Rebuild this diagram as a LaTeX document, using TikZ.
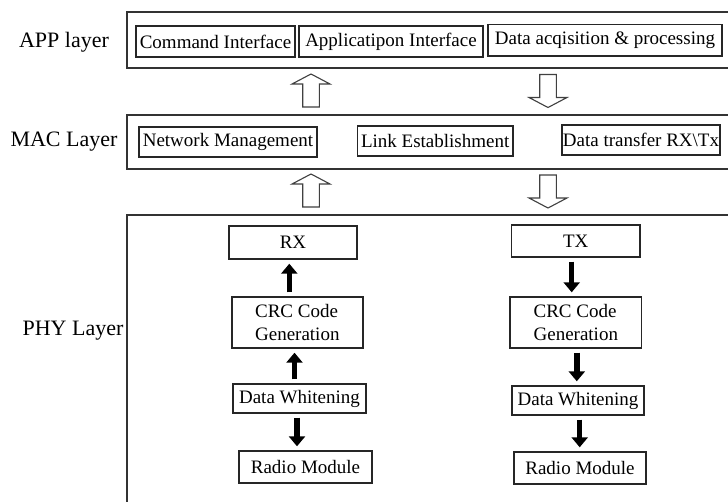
\documentclass[tikz,border=0pt]{standalone}
\usepackage{fontspec}
\setmainfont{Liberation Serif}
\usetikzlibrary{arrows.meta}

\begin{document}
\begin{tikzpicture}[x=1pt,y=-1pt,
  layerbox/.style={draw=black!80,line width=1.3pt,minimum width=608pt,inner sep=0pt},
  ibox/.style={draw=black!85,line width=1.4pt,inner sep=0pt,
    font=\fontsize{19}{23}\selectfont},
  lbl/.style={inner sep=0pt,font=\fontsize{22}{26}\selectfont},
  hollowline/.style={draw=black!75,line width=1.1pt,line join=miter,fill=white},
  hollowup/.pic={\draw[hollowline] (-8.3,16.5) -- (-8.3,-6.5) -- (-19,-6.5) -- (0,-16.5)
     -- (19,-6.5) -- (8.3,-6.5) -- (8.3,16.5) -- cycle;},
  hollowdown/.pic={\draw[hollowline] (-8.3,-16.5) -- (-8.3,6.5) -- (-19,6.5) -- (0,16.5)
     -- (19,6.5) -- (8.3,6.5) -- (8.3,-16.5) -- cycle;},
  flow/.style={line width=5.5pt,-{Triangle[length=10pt,width=16pt]},
    shorten <=4pt,shorten >=4pt}
]
\fill[white] (0,0) rectangle (728,501);
\useasboundingbox (0,0) rectangle (728,501);

% layer frames (they run past the right and bottom edges)
\node[layerbox,minimum height=56pt] (app) at (431,40) {};
\node[layerbox,minimum height=54pt] (mac) at (431,142) {};
\node[layerbox,minimum height=295pt] (phy) at (431,362.5) {};

% layer names
\node[lbl] (applbl) at (64,42) {APP layer};
\node[lbl] (maclbl) at (64,142) {MAC Layer};
\node[lbl] (phylbl) at (73,331) {PHY Layer};

% APP layer blocks
\node[ibox,minimum width=159pt,minimum height=31pt] (cmd) at (215.5,41.5) {Command Interface};
\node[ibox,minimum width=184pt,minimum height=31pt] (api) at (391,41.5) {Applicatipon Interface};
\node[ibox,minimum width=234pt,minimum height=31.5pt] (daq) at (605,40.3) {Data acqisition \& processing};

% MAC layer blocks
\node[ibox,minimum width=178pt,minimum height=30pt] (net) at (228,142) {Network Management};
\node[ibox,minimum width=155.5pt,minimum height=30pt] (link) at (435.2,141) {Link Establishment};
\node[ibox,minimum width=158pt,minimum height=30pt] (dtr) at (641,140) {Data transfer RX\textbackslash Tx};

% hollow arrows between the layers
\pic (up1) at (311,90.5) {hollowup};
\pic (down1) at (548,91) {hollowdown};
\pic (up2) at (311,190.5) {hollowup};
\pic (down2) at (548,191.5) {hollowdown};

% PHY receive chain
\node[ibox,minimum width=128pt,minimum height=33pt] (rx) at (293,242.5) {RX};
\node[ibox,minimum width=131pt,minimum height=51pt,align=left] (crcl) at (297.3,322.5) {CRC Code\\Generation};
\node[ibox,minimum width=133pt,minimum height=29pt] (dwl) at (299.5,398.5) {Data Whitening};
\node[ibox,minimum width=133pt,minimum height=32pt] (rml) at (305.5,467) {Radio Module};

% PHY transmit chain
\node[ibox,minimum width=128.5pt,minimum height=32pt] (tx) at (575.7,241) {TX};
\node[ibox,minimum width=131.7pt,minimum height=51pt,align=left] (crcr) at (575.8,322.5) {CRC Code\\Generation};
\node[ibox,minimum width=132pt,minimum height=29pt] (dwr) at (578,400.5) {Data Whitening};
\node[ibox,minimum width=132pt,minimum height=32pt] (rmr) at (580,468) {Radio Module};

% receive chain arrows
\draw[flow] ([xshift=-8pt]crcl.north) -- ([xshift=-8pt]crcl.north |- rx.south);
\draw[flow] ([xshift=-5pt]dwl.north) -- ([xshift=-5pt]dwl.north |- crcl.south);
\draw[flow] ([xshift=-2.5pt]dwl.south) -- ([xshift=-2.5pt]dwl.south |- rml.north);

% transmit chain arrows
\draw[flow] ([xshift=-4pt]tx.south) -- ([xshift=-4pt]tx.south |- crcr.north);
\draw[flow] ([xshift=1pt]crcr.south) -- ([xshift=1pt]crcr.south |- dwr.north);
\draw[flow] ([xshift=1.7pt]dwr.south) -- ([xshift=1.7pt]dwr.south |- rmr.north);
\end{tikzpicture}
\end{document}
